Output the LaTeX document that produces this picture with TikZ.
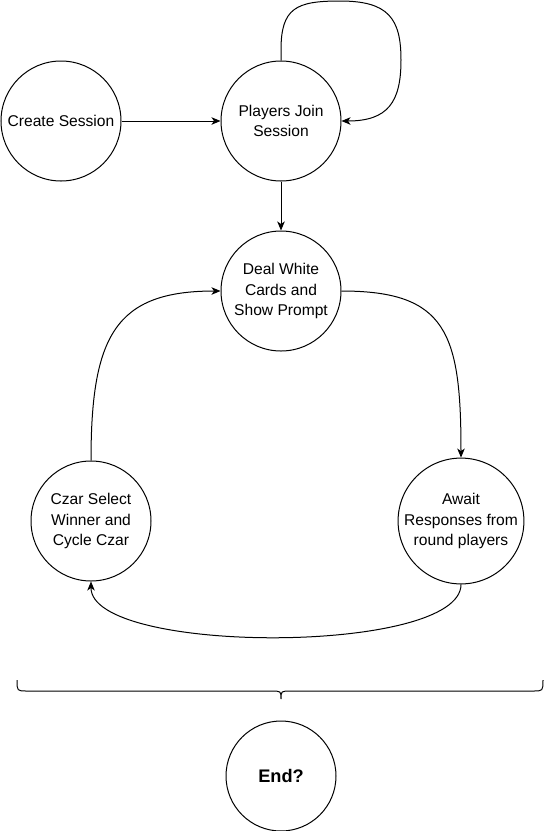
\documentclass[tikz,border=0pt]{standalone}
\usepackage{fontspec}
\setmainfont{Liberation Sans}
\usetikzlibrary{arrows.meta}
\begin{document}
\begin{tikzpicture}[x=1pt,y=-1pt,
  state/.style={circle,draw,line width=1pt,minimum size=120pt,inner sep=0pt,align=center,
    font=\fontsize{15.6}{20.3}\selectfont},
  conn/.style={line width=1pt,-{Stealth[length=9pt,width=7.5pt,inset=2.5pt]}},
  bracestyle/.style={line width=1pt}
]
\useasboundingbox (0,0) rectangle (544,831);

\node[state] (cs) at (61,121) {Create Session};
\node[state] (pj) at (281,121) {Players Join\\Session};
\node[state] (dw) at (281,291) {Deal White\\Cards and\\Show Prompt};
\node[state] (cz) at (91,521) {Czar Select\\Winner and\\Cycle Czar};
\node[state] (aw) at (461,521) {Await\\Responses from\\round players};
\node[state,minimum size=110pt,font=\fontsize{18.2}{22}\selectfont\bfseries] (end) at (281,776) {End?};

\draw[conn] (cs.east) -- (pj.west);
\draw[conn] (pj.south) -- (dw.north);
\draw[conn] (pj.north) -- (281,50) .. controls (281,8) and (296,1) .. (340,1)
  .. controls (388,1) and (401,18) .. (401,60)
  .. controls (401,102) and (388,121) .. (pj.east);
\draw[conn] (dw.east) .. controls +(105,0) and +(0,-125) .. (aw.north);
\draw[conn] (aw.south) .. controls (461,655) and (91,655) .. (cz.south);
\draw[conn] (cz.north) .. controls +(0,-125) and +(-105,0) .. (dw.west);

\coordinate (bl) at (17,680);
\coordinate (br) at (543,680);
\coordinate (bt) at (281,699);
\draw[bracestyle] (bl) .. controls (17,691) .. (27,691) -- (271,691)
  .. controls (281,691) .. (bt) .. controls (281,691) .. (291,691) -- (533,691)
  .. controls (543,691) .. (br);
\end{tikzpicture}
\end{document}
